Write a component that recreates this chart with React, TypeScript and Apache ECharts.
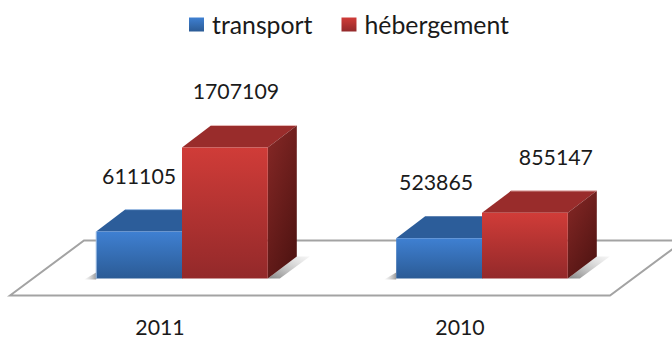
import React, { useEffect, useRef } from "react";
import * as echarts from "echarts";

const categories = ["2011", "2010"];
const transport = [611105, 523865];
const hebergement = [1707109, 855147];
const seriesNames = ["transport", "hébergement"];

// Label nudges and 3D projection (pixels), not data
const labelNudgeTransport = [0, -3];
const labelNudgeHebergement = [11, 31];
const FONT = "Lato, sans-serif";
const TEXT = "#1a1a1a";
const BAR_FRACTION = 0.286;
const DEPTH_X = 29;
const DEPTH_Y = -22;
const BASE_X = 22;
const BASE_Y = -17;
const FLOOR_X = 74;
const FLOOR_Y = -55;

const grad = (x: number, y: number, x2: number, y2: number, a: string, b: string) =>
  new echarts.graphic.LinearGradient(x, y, x2, y2, [
    { offset: 0, color: a },
    { offset: 1, color: b },
  ]);

const PALETTE = [
  { front: ["#3f80d2", "#2b5b95"], top: "#2c5d9a", side: ["#2c5d9a", "#1d3f6a"], edge: "#9dbde4" },
  { front: ["#d03c38", "#93292a"], top: "#992c2b", side: ["#872826", "#531513"], edge: "#e6b9b7" },
];

const makeBars = (seriesIndex: number, nudges: number[]) =>
  (params: any, api: any) => {
    const i = api.value(0);
    const v = api.value(1);
    const p = api.coord([i, v]);
    const base = api.coord([i, 0]);
    const band = api.size([1, 0])[0];
    const w = band * BAR_FRACTION;
    const l = p[0] + BASE_X - (seriesIndex === 0 ? w : 0);
    const r = l + w;
    const t = p[1] + BASE_Y;
    const b = base[1] + BASE_Y;
    const c = PALETTE[seriesIndex];
    const children: any[] = [];
    if (seriesIndex === 1) {
      children.push({
        type: "polygon",
        shape: { points: [[r, b], [r + DEPTH_X, b + DEPTH_Y], [r + DEPTH_X + 13, b + DEPTH_Y], [r + 12, b]] },
        style: { fill: grad(0, 1, 1, 0, "rgba(90,90,90,0.75)", "rgba(190,190,190,0.15)") },
      });
    } else {
      children.push({
        type: "polygon",
        shape: { points: [[l - 12, b + 1], [l, b - 6], [l, b + 1]] },
        style: { fill: grad(0, 0, 1, 0, "rgba(200,200,200,0.1)", "rgba(110,110,110,0.7)") },
      });
    }
    children.push(
      {
        type: "polygon",
        shape: { points: [[l, t], [l + DEPTH_X, t + DEPTH_Y], [r + DEPTH_X, t + DEPTH_Y], [r, t]] },
        style: { fill: c.top },
      },
      {
        type: "polygon",
        shape: { points: [[r, t], [r + DEPTH_X, t + DEPTH_Y], [r + DEPTH_X, b + DEPTH_Y], [r, b]] },
        style: { fill: grad(0, 0, 0.6, 1, c.side[0], c.side[1]) },
      },
      {
        type: "rect",
        shape: { x: l, y: t, width: r - l, height: b - t },
        style: { fill: grad(0, 0, 0, 1, c.front[0], c.front[1]) },
      }
    );
    if (!(seriesIndex === 0 && i === 1)) {
      children.push({
        type: "line",
        shape: { x1: l + DEPTH_X, y1: t + DEPTH_Y, x2: r + DEPTH_X, y2: t + DEPTH_Y },
        style: { stroke: c.edge, lineWidth: 1 },
      });
    }
    if (seriesIndex === 0 && i === 0) {
      children.push({
        type: "line",
        shape: { x1: l, y1: t, x2: l, y2: b },
        style: { stroke: c.edge, lineWidth: 1 },
      });
    }
    children.push({
      type: "text",
      style: {
        text: String(v),
        x: (l + r) / 2 + nudges[i],
        y: t - 56,
        align: "center",
        verticalAlign: "middle",
        fill: TEXT,
        font: `21.3px ${FONT}`,
      },
    });
    return { type: "group", children };
  };

const renderFloor = (params: any, api: any) => {
  const cs = params.coordSys;
  const y = cs.y + cs.height;
  const x0 = cs.x;
  const x1 = cs.x + cs.width;
  return {
    type: "polygon",
    shape: {
      points: [
        [x0, y],
        [x0 + FLOOR_X, y + FLOOR_Y],
        [x1 + FLOOR_X, y + FLOOR_Y],
        [x1, y],
      ],
    },
    style: { fill: "#ffffff", stroke: "#a3a3a3", lineWidth: 2 },
  };
};

export default function App() {
  const ref = useRef<HTMLDivElement>(null);
  useEffect(() => {
    const chart = echarts.init(ref.current!, undefined, { renderer: "svg" });
    chart.setOption({
      animation: false,
      backgroundColor: "#ffffff",
      grid: { left: 10, top: 142, width: 600, height: 153.5 },
      legend: {
        left: 189,
        top: 12,
        padding: 0,
        itemWidth: 15,
        itemHeight: 14,
        itemGap: 29,
        icon: "rect",
        data: seriesNames,
        textStyle: { fontFamily: FONT, fontSize: 24.8, color: TEXT, padding: [0, 0, 0, 3] },
      },
      xAxis: {
        type: "category",
        data: categories,
        axisLine: { show: false },
        axisTick: { show: false },
        axisLabel: { fontFamily: FONT, fontSize: 21.3, lineHeight: 20, color: TEXT, margin: 21 },
      },
      yAxis: { type: "value", min: 0, max: 2000000, show: false },
      series: [
        {
          type: "custom",
          silent: true,
          clip: false,
          renderItem: renderFloor,
          data: [0],
          z: 1,
        },
        {
          type: "custom",
          name: seriesNames[0],
          clip: false,
          renderItem: makeBars(0, labelNudgeTransport),
          encode: { x: 0, y: 1 },
          itemStyle: { color: grad(0, 0, 0, 1, PALETTE[0].front[0], PALETTE[0].front[1]) },
          data: categories.map((_, i) => [i, transport[i]]),
          z: 2,
        },
        {
          type: "custom",
          name: seriesNames[1],
          clip: false,
          renderItem: makeBars(1, labelNudgeHebergement),
          encode: { x: 0, y: 1 },
          itemStyle: { color: grad(0, 0, 0, 1, PALETTE[1].front[0], PALETTE[1].front[1]) },
          data: categories.map((_, i) => [i, hebergement[i]]),
          z: 3,
        },
      ],
    });
    return () => chart.dispose();
  }, []);
  return <div ref={ref} style={{ width: 672, height: 338, position: "fixed", left: 0, top: 0 }} />;
}
